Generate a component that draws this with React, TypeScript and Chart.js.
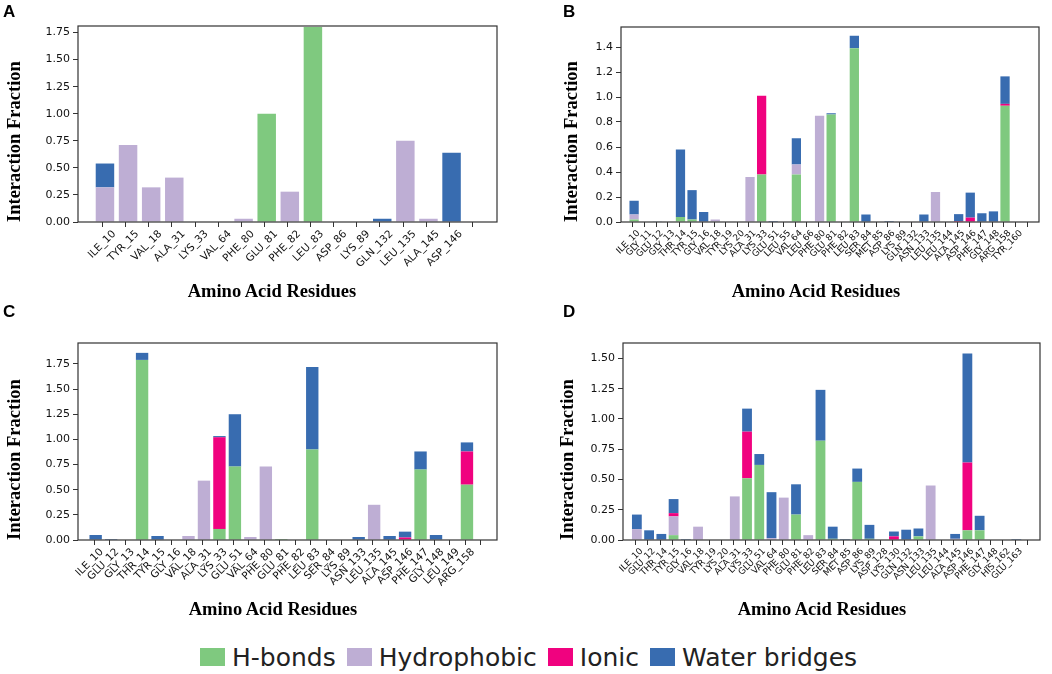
import { Chart, registerables } from "chart.js";
import { useEffect, useRef } from "react";

Chart.register(...registerables);
Chart.defaults.font.family = "'DejaVu Sans', sans-serif";

const SERIES = ["H-bonds", "Hydrophobic", "Ionic", "Water bridges"];
const COLORS = ["#7fc97f", "#beaed4", "#f0027f", "#386cb0"];

// panel A
const A_LABELS = ["ILE_10", "TYR_15", "VAL_18", "ALA_31", "LYS_33", "VAL_64", "PHE_80", "GLU_81", "PHE_82", "LEU_83", "ASP_86", "LYS_89", "GLN_132", "LEU_135", "ALA_145", "ASP_146"];
const A_HBONDS = [0, 0, 0, 0, 0, 0, 0, 1.0, 0, 1.8, 0, 0, 0, 0, 0, 0];
const A_HYDRO = [0.32, 0.71, 0.32, 0.41, 0, 0, 0.03, 0, 0.28, 0, 0, 0, 0, 0.75, 0.03, 0];
const A_IONIC = [0, 0, 0, 0, 0, 0, 0, 0, 0, 0, 0, 0, 0, 0, 0, 0];
const A_WATER = [0.22, 0, 0, 0, 0, 0, 0, 0, 0, 0, 0, 0, 0.03, 0, 0, 0.64];

// panel B
const B_LABELS = ["ILE_10", "GLY_11", "GLU_12", "GLY_13", "THR_14", "TYR_15", "GLY_16", "VAL_18", "TYR_19", "LYS_20", "ALA_31", "LYS_33", "GLU_51", "LEU_55", "VAL_64", "LEU_66", "PHE_80", "GLU_81", "PHE_82", "LEU_83", "SER_84", "MET_85", "ASP_86", "LYS_89", "GLN_132", "ASN_133", "LEU_135", "LEU_144", "ALA_145", "ASP_146", "PHE_147", "GLY_148", "ARG_158", "TYR_160"];
const B_HBONDS = [0.02, 0, 0, 0, 0.04, 0.02, 0, 0, 0, 0, 0, 0.38, 0, 0, 0.38, 0, 0, 0.86, 0, 1.39, 0, 0, 0, 0, 0, 0, 0, 0, 0, 0, 0, 0, 0.93, 0];
const B_HYDRO = [0.04, 0, 0, 0, 0, 0, 0, 0.02, 0, 0, 0.36, 0, 0, 0, 0.08, 0, 0.85, 0, 0, 0, 0, 0, 0, 0, 0, 0, 0.24, 0, 0, 0, 0, 0, 0, 0];
const B_IONIC = [0, 0, 0, 0, 0, 0, 0, 0, 0, 0, 0, 0.63, 0, 0, 0, 0, 0, 0, 0, 0, 0, 0, 0, 0, 0, 0, 0, 0, 0.008, 0.035, 0, 0, 0.015, 0];
const B_WATER = [0.11, 0, 0.005, 0, 0.54, 0.235, 0.08, 0, 0, 0, 0, 0, 0.008, 0, 0.21, 0, 0, 0.01, 0, 0.1, 0.06, 0, 0.008, 0.004, 0, 0.06, 0, 0, 0.055, 0.2, 0.07, 0.085, 0.22, 0];

// panel C
const C_LABELS = ["ILE_10", "GLU_12", "GLY_13", "THR_14", "TYR_15", "GLY_16", "VAL_18", "ALA_31", "LYS_33", "GLU_51", "VAL_64", "PHE_80", "GLU_81", "PHE_82", "LEU_83", "SER_84", "LYS_89", "ASN_133", "LEU_135", "ALA_145", "ASP_146", "PHE_147", "GLY_148", "LEU_149", "ARG_158"];
const C_HBONDS = [0, 0, 0, 1.79, 0, 0, 0, 0, 0.11, 0.73, 0, 0, 0.01, 0, 0.9, 0, 0, 0, 0, 0, 0, 0.7, 0, 0, 0.55];
const C_HYDRO = [0, 0, 0, 0, 0, 0, 0.04, 0.59, 0, 0, 0.03, 0.73, 0, 0, 0, 0, 0, 0, 0.35, 0, 0, 0, 0, 0, 0];
const C_IONIC = [0, 0, 0, 0, 0, 0, 0, 0, 0.91, 0, 0, 0, 0, 0, 0, 0, 0, 0, 0, 0, 0.025, 0, 0, 0, 0.33];
const C_WATER = [0.05, 0.01, 0, 0.07, 0.04, 0.005, 0, 0, 0.013, 0.52, 0, 0, 0, 0, 0.82, 0.005, 0, 0.03, 0, 0.04, 0.058, 0.18, 0.05, 0, 0.09];

// panel D
const D_LABELS = ["ILE_10", "GLU_12", "THR_14", "TYR_15", "GLY_16", "VAL_18", "TYR_19", "LYS_20", "ALA_31", "LYS_33", "GLU_51", "VAL_64", "PHE_80", "GLU_81", "PHE_82", "LEU_83", "SER_84", "MET_85", "ASP_86", "LYS_89", "ASP_128", "LYS_130", "GLN_132", "ASN_133", "LEU_135", "LEU_144", "ALA_145", "ASP_146", "PHE_147", "GLY_148", "HIS_162", "GLU_163"];
const D_HBONDS = [0, 0, 0, 0.04, 0, 0, 0, 0, 0, 0.51, 0.62, 0, 0, 0.21, 0, 0.82, 0.01, 0, 0.48, 0.01, 0, 0, 0, 0.03, 0, 0, 0, 0.08, 0.08, 0, 0, 0];
const D_HYDRO = [0.09, 0, 0, 0.155, 0, 0.11, 0, 0, 0.36, 0, 0, 0.015, 0.35, 0, 0.04, 0, 0, 0, 0, 0, 0, 0, 0, 0, 0.45, 0, 0.01, 0, 0, 0, 0, 0];
const D_IONIC = [0, 0, 0, 0.027, 0, 0, 0, 0, 0, 0.385, 0, 0, 0, 0, 0, 0, 0, 0, 0, 0, 0, 0.03, 0, 0, 0, 0, 0, 0.56, 0, 0, 0, 0];
const D_WATER = [0.12, 0.08, 0.05, 0.116, 0.008, 0, 0, 0, 0, 0.19, 0.09, 0.38, 0, 0.25, 0, 0.42, 0.1, 0.008, 0.11, 0.115, 0, 0.04, 0.085, 0.065, 0, 0, 0.04, 0.9, 0.12, 0, 0, 0.008];

const framePlugin = {
  id: "frame",
  afterDraw(chart: any) {
    const { ctx, chartArea: a } = chart;
    ctx.save();
    ctx.strokeStyle = "#333";
    ctx.lineWidth = 1.2;
    ctx.strokeRect(a.left, a.top, a.right - a.left, a.bottom - a.top);
    ctx.restore();
  },
};

type PanelProps = {
  letter: string;
  labels: string[];
  series: number[][];
  yMax: number;
  yStep: number;
  decimals: number;
  tickSize: number;
  left: number;
  top: number;
  width: number;
  height: number;
  padLeft: number;
  padTop: number;
  padRight: number;
  yAxisWidth: number;
  xAxisHeight: number;
  letterX: number;
  titleX: number;
  titleTop: number;
};

function Panel(p: PanelProps) {
  const canvasRef = useRef<HTMLCanvasElement | null>(null);
  useEffect(() => {
    if (!canvasRef.current) return;
    const chart = new Chart(canvasRef.current, {
      type: "bar",
      data: {
        datasets: SERIES.map((name, k) => ({
          label: name,
          data: p.series[k].map((v, i) => ({ x: i, y: v })),
          backgroundColor: COLORS[k],
          borderWidth: 0,
          categoryPercentage: 1,
          barPercentage: 0.8,
        })),
      },
      options: {
        responsive: false,
        animation: false,
        layout: { padding: { left: p.padLeft, top: p.padTop, right: p.padRight, bottom: 0 } },
        plugins: { legend: { display: false }, tooltip: { enabled: false } },
        scales: {
          x: {
            type: "linear",
            stacked: true,
            bounds: "data",
            min: -0.6,
            max: p.labels.length + 0.4,
            afterBuildTicks: (s: any) => {
              s.ticks = p.labels.map((_, i) => ({ value: i + 0.4 }));
            },
            afterFit: (s: any) => {
              s.height = p.xAxisHeight;
            },
            ticks: {
              autoSkip: false,
              minRotation: 45,
              maxRotation: 45,
              padding: 1,
              color: "#111",
              font: { size: p.tickSize },
              callback: (_v: any, i: number) => p.labels[i] ?? "",
            },
            grid: { drawOnChartArea: false, drawTicks: true, tickLength: 5, color: "#333" },
            border: { display: false },
          },
          y: {
            stacked: true,
            bounds: "data",
            min: 0,
            max: p.yMax,
            afterBuildTicks: (s: any) => {
              // keep only the round step values, drop the axis max
              s.ticks = s.ticks.filter((t: any) => {
                const r = t.value / p.yStep;
                return Math.abs(r - Math.round(r)) < 1e-6;
              });
            },
            afterFit: (s: any) => {
              s.width = p.yAxisWidth;
            },
            ticks: {
              stepSize: p.yStep,
              padding: 3,
              color: "#111",
              font: { size: 11 },
              callback: (v: any) => Number(v).toFixed(p.decimals),
            },
            grid: { drawOnChartArea: false, drawTicks: true, tickLength: 5, color: "#333" },
            border: { display: false },
            title: {
              display: true,
              text: "Interaction Fraction",
              align: "start",
              color: "#000",
              padding: { top: 4, bottom: 0 },
              font: { family: "'Liberation Serif', serif", weight: "bold", size: 18.5 },
            },
          },
        },
      },
      plugins: [framePlugin],
    } as any);
    return () => chart.destroy();
  }, [p]);

  return (
    <>
      <div style={{ position: "absolute", left: p.left, top: p.top, width: p.width, height: p.height }}>
        <canvas ref={canvasRef} width={p.width} height={p.height} />
      </div>
      <div
        style={{
          position: "absolute",
          left: p.letterX,
          top: p.top + 3,
          font: "bold 17px 'Liberation Sans', sans-serif",
          lineHeight: "17px",
        }}
      >
        {p.letter}
      </div>
      <div
        style={{
          position: "absolute",
          left: p.titleX - 150,
          width: 300,
          top: p.titleTop,
          textAlign: "center",
          font: "bold 18.5px 'Liberation Serif', serif",
          lineHeight: "18px",
          color: "#000",
        }}
      >
        Amino Acid Residues
      </div>
    </>
  );
}

const PANELS: PanelProps[] = [
  {
    letter: "A", labels: A_LABELS, series: [A_HBONDS, A_HYDRO, A_IONIC, A_WATER],
    yMax: 1.81, yStep: 0.25, decimals: 2, tickSize: 10.5,
    left: 0, top: 0, width: 520, height: 300, padLeft: 0, padTop: 26, padRight: 23,
    yAxisWidth: 78, xAxisHeight: 78, letterX: 3, titleX: 272, titleTop: 282,
  },
  {
    letter: "B", labels: B_LABELS, series: [B_HBONDS, B_HYDRO, B_IONIC, B_WATER],
    yMax: 1.56, yStep: 0.2, decimals: 1, tickSize: 9,
    left: 520, top: 0, width: 532, height: 300, padLeft: 37, padTop: 27, padRight: 13,
    yAxisWidth: 64, xAxisHeight: 78, letterX: 563, titleX: 816, titleTop: 282,
  },
  {
    letter: "C", labels: C_LABELS, series: [C_HBONDS, C_HYDRO, C_IONIC, C_WATER],
    yMax: 1.958, yStep: 0.25, decimals: 2, tickSize: 10.5,
    left: 0, top: 300, width: 520, height: 318, padLeft: 0, padTop: 43, padRight: 23,
    yAxisWidth: 78, xAxisHeight: 78, letterX: 3, titleX: 273, titleTop: 600,
  },
  {
    letter: "D", labels: D_LABELS, series: [D_HBONDS, D_HYDRO, D_IONIC, D_WATER],
    yMax: 1.627, yStep: 0.25, decimals: 2, tickSize: 9,
    left: 520, top: 300, width: 532, height: 318, padLeft: 33, padTop: 43, padRight: 12,
    yAxisWidth: 70, xAxisHeight: 78, letterX: 563, titleX: 822, titleTop: 600,
  },
];

export default function App() {
  return (
    <div style={{ position: "absolute", left: 0, top: 0, width: 1052, height: 674, background: "#fff", overflow: "hidden" }}>
      {PANELS.map((p) => (
        <Panel key={p.letter} {...p} />
      ))}
      <div style={{ position: "absolute", left: 200, top: 645, display: "flex", alignItems: "flex-start" }}>
        {SERIES.map((name, k) => (
          <div key={name} style={{ display: "flex", alignItems: "flex-start", marginRight: 11 }}>
            <div style={{ width: 25, height: 18, marginTop: 3, background: COLORS[k] }} />
            <span style={{ marginLeft: 7, font: "25px 'DejaVu Sans', sans-serif", lineHeight: "25px", color: "#222", whiteSpace: "nowrap" }}>
              {name}
            </span>
          </div>
        ))}
      </div>
    </div>
  );
}
